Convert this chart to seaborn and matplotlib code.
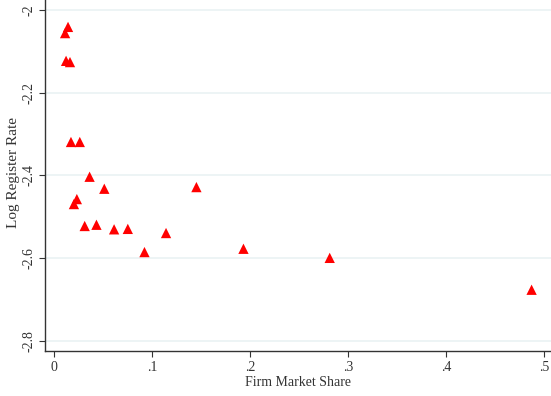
import numpy as np
import pandas as pd
import matplotlib
matplotlib.use("Agg")
import matplotlib.pyplot as plt
import seaborn as sns

market_share = [0.014, 0.011, 0.012, 0.016, 0.017, 0.026, 0.036, 0.051, 0.145, 0.020,
                0.023, 0.031, 0.043, 0.061, 0.075, 0.092, 0.114, 0.193, 0.281, 0.487]
log_register_rate = [-2.041, -2.056, -2.123, -2.126, -2.319, -2.319, -2.403, -2.432, -2.428, -2.469,
                     -2.457, -2.522, -2.519, -2.530, -2.529, -2.585, -2.539, -2.577, -2.599, -2.676]
x_ticks = [0, 0.1, 0.2, 0.3, 0.4, 0.5]
x_tick_labels = ["0", ".1", ".2", ".3", ".4", ".5"]
y_ticks = [-2.0, -2.2, -2.4, -2.6, -2.8]
y_tick_labels = ["-2", "-2.2", "-2.4", "-2.6", "-2.8"]

df = pd.DataFrame({"share": market_share, "rate": log_register_rate})

sns.set_style("white")
plt.rcParams['font.family'] = ['Liberation Serif', 'DejaVu Serif']

fig = plt.figure(figsize=(5.51, 3.96), dpi=100)
ax = fig.add_axes([45/551, 45/396, 506/551, 351/396])

sns.scatterplot(data=df, x="share", y="rate", marker="^", color="#ff0000",
                edgecolor="none", s=55, ax=ax, zorder=3)

ax.set_xlim(-0.0095, 0.5068)
ax.set_ylim(-2.824, -1.976)
ax.set_xticks(x_ticks)
ax.set_xticklabels(x_tick_labels)
ax.set_yticks(y_ticks)
ax.set_yticklabels(y_tick_labels, rotation=90, va="center")
ax.yaxis.grid(True, color="#eaf2f3", linewidth=1.2)
ax.xaxis.grid(False)
ax.set_axisbelow(True)

for side in ["top", "right"]:
    ax.spines[side].set_visible(False)
for side in ["left", "bottom"]:
    ax.spines[side].set_color("#333333")
    ax.spines[side].set_linewidth(1.0)

ax.tick_params(axis="both", which="both", direction="out", length=4, width=0.8,
               color="#333333", labelsize=10, labelcolor="#333333", pad=3,
               bottom=True, left=True)

ax.set_xlabel("Firm Market Share", fontsize=10, color="#333333", labelpad=2)
ax.set_ylabel("Log Register Rate", fontsize=11, color="#333333", va="center")
ax.yaxis.set_label_coords(14/551, (396-172)/396, transform=fig.transFigure)

fig.savefig("out.png", dpi=100)
